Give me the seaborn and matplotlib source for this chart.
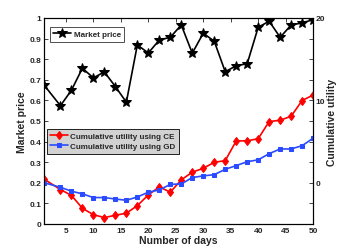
import numpy as np
import pandas as pd
import matplotlib
matplotlib.use("Agg")
import matplotlib.pyplot as plt
import seaborn as sns

days = [1, 4, 6, 8, 10, 12, 14, 16, 18, 20, 22, 24, 26, 28, 30, 32, 34, 36, 38, 40, 42, 44, 46, 48, 50]
market_price = [0.675, 0.574, 0.649, 0.756, 0.709, 0.738, 0.667, 0.591, 0.869, 0.830, 0.893, 0.906,
                0.966, 0.829, 0.926, 0.887, 0.739, 0.768, 0.778, 0.955, 0.984, 0.906, 0.966, 0.976, 0.992]
utility_ce = [0.45, -0.83, -1.53, -3.1, -3.88, -4.23, -3.95, -3.7, -2.78, -1.48, -0.5, -1.15,
              0.35, 1.28, 1.75, 2.48, 2.68, 5.08, 5.08, 5.35, 7.43, 7.58, 8.08, 9.98, 10.65]
utility_gd = [0.0, -0.55, -1.03, -1.35, -1.8, -1.8, -1.98, -2.13, -1.73, -1.15, -0.88, -0.2,
              -0.15, 0.63, 0.83, 0.98, 1.63, 2.08, 2.55, 2.78, 3.53, 4.1, 4.1, 4.5, 5.4]

sns.set_style("white")
plt.rcParams['font.family'] = ['Liberation Sans', 'DejaVu Sans']
plt.rcParams['font.weight'] = 'bold'

fig = plt.figure(figsize=(3.46, 2.53), dpi=100)
ax = fig.add_axes([0.127, 0.111, 0.778, 0.814])
ax2 = ax.twinx()

df = pd.DataFrame({"day": days, "price": market_price, "ce": utility_ce, "gd": utility_gd})

sns.lineplot(data=df, x="day", y="price", ax=ax, color="black", marker="*", markersize=7,
             markeredgecolor="black", linewidth=1.2, label="Market price")
sns.lineplot(data=df, x="day", y="ce", ax=ax2, color="#ff0000", marker="d", markersize=4.5,
             markeredgecolor="#ff0000", linewidth=1.2, label="Cumulative utility using CE")
sns.lineplot(data=df, x="day", y="gd", ax=ax2, color="#2a4bff", marker="s", markersize=3.4,
             markeredgecolor="#2a4bff", linewidth=1.2, label="Cumulative utility using GD")

ax.set_xlim(1, 50)
ax.set_ylim(0, 1)
ax2.set_ylim(-5, 20)
ax.set_xticks(range(5, 51, 5))
ax.set_yticks(np.arange(0, 1.01, 0.1))
ax.set_yticklabels(["0"] + [f"{v:.1f}" for v in np.arange(0.1, 0.95, 0.1)] + ["1"])
rt = np.arange(-5, 20.01, 2.5)
ax2.set_yticks(rt)
ax2.set_yticklabels([str(int(v)) if v in (0, 10, 20) else "" for v in rt])

for a in (ax, ax2):
    for s in a.spines.values():
        s.set_color("black")
        s.set_linewidth(0.8)
ax.tick_params(axis="both", direction="in", length=3, width=0.6, labelsize=6, pad=2, top=True)
ax2.tick_params(axis="y", direction="in", length=3, width=0.6, labelsize=6, pad=2)

ax.set_xlabel("Number of days", fontsize=7.5, fontweight="bold", labelpad=1)
ax.set_ylabel("Market price", fontsize=7.5, fontweight="bold", labelpad=2)
ax2.set_ylabel("Cumulative utility", fontsize=7.5, fontweight="bold", labelpad=1)

leg1 = ax.legend(loc="upper left", bbox_to_anchor=(0.022, 0.956), fontsize=5.8, frameon=True,
                 fancybox=False, edgecolor="black", handlelength=2.2, borderpad=0.45,
                 handletextpad=0.3, borderaxespad=0)
leg1.get_frame().set_linewidth(0.6)
leg2 = ax2.legend(loc="upper left", bbox_to_anchor=(0.011, 0.461), fontsize=5.8, frameon=True,
                  fancybox=False, edgecolor="black", facecolor="#d2d2d2", framealpha=1,
                  handlelength=2.2, borderpad=0.4, handletextpad=0.3, labelspacing=0.35,
                  borderaxespad=0)
leg2.get_frame().set_linewidth(0.6)

fig.savefig("out.png", dpi=100)
